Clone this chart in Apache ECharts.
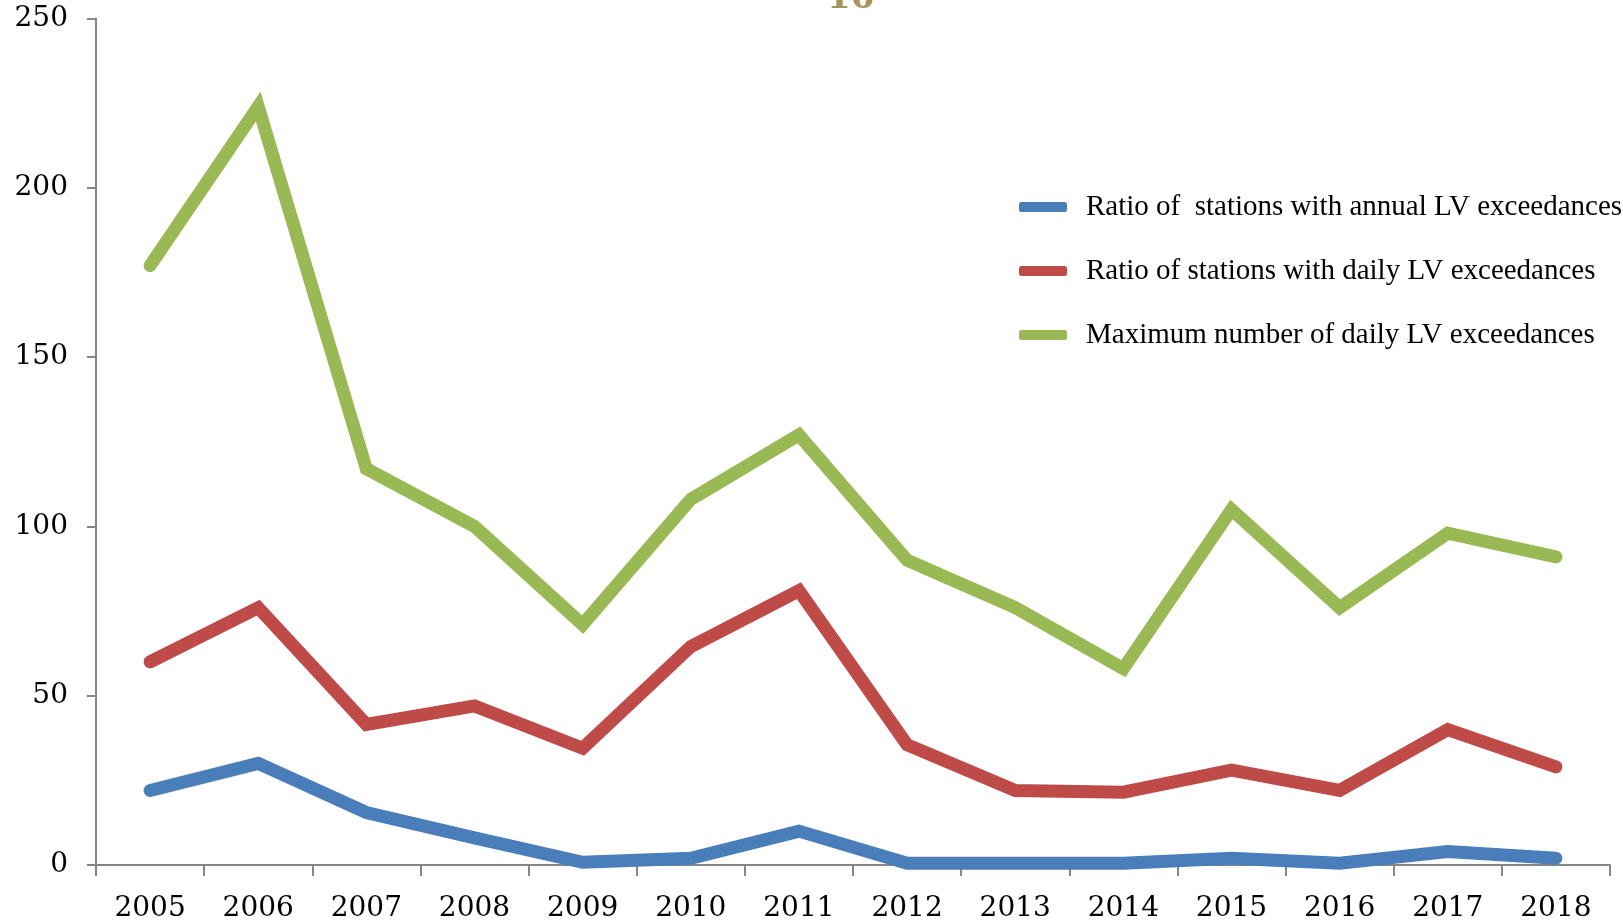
<!DOCTYPE html>
<html>
<head>
<meta charset="utf-8">
<script src="https://cdn.jsdelivr.net/npm/echarts@6/dist/echarts.min.js"></script>
<style>html,body{margin:0;padding:0;background:#fff}#chart{width:1623px;height:923px}</style>
</head>
<body>
<div id="chart"></div>
<script>
const years = ['2005','2006','2007','2008','2009','2010','2011','2012','2013','2014','2015','2016','2017','2018'];
const annualRatio = [22, 30, 15.5, 8, 0.8, 2, 10, 0.5, 0.5, 0.5, 2, 0.5, 4, 2];
const dailyRatio = [60, 76, 41.5, 47, 34.5, 64.5, 81, 35.5, 22, 21.5, 28, 22, 40, 29];
const maxDaily = [177, 224, 117, 100, 71, 108, 127, 90, 76, 58, 105, 76, 98, 91];
const seriesNames = ['Ratio of  stations with annual LV exceedances', 'Ratio of stations with daily LV exceedances', 'Maximum number of daily LV exceedances'];
const yTicks = { min: 0, max: 250, interval: 50 };

const chart = echarts.init(document.getElementById('chart'));
const axisLine = { show: true, lineStyle: { color: '#868686', width: 2 } };
const labelFont = { fontFamily: 'DejaVu Serif', fontSize: 28, color: '#000' };
function mk(name, data, color) {
  return { name, type: 'line', data, showSymbol: false, symbol: 'none', color,
    lineStyle: { width: 13, color, cap: 'round', join: 'miter' }, animation: false };
}
chart.setOption({
  animation: false,
  grid: { left: 96, right: 13, top: 18.5, bottom: 58, containLabel: false },
  graphic: [{ type: 'text', left: 827, top: -18, style: { text: '16', font: 'bold 34px "DejaVu Serif"', fill: '#A8955C' } }],
  legend: { orient: 'vertical', left: 1014, top: 186, itemWidth: 48, itemHeight: 10, itemGap: 32, icon: 'roundRect',
    textStyle: { fontFamily: 'Liberation Serif', fontSize: 29, color: '#000', lineHeight: 32, padding: [0,0,0,14] },
    data: seriesNames },
  xAxis: { type: 'category', data: years, boundaryGap: true, axisLine,
    axisTick: { show: true, length: 11, lineStyle: { color: '#868686', width: 2 } },
    axisLabel: Object.assign({ margin: 30 }, labelFont), splitLine: { show: false } },
  yAxis: { type: 'value', min: yTicks.min, max: yTicks.max, interval: yTicks.interval, axisLine,
    axisTick: { show: true, length: 9, lineStyle: { color: '#868686', width: 2 } },
    axisLabel: Object.assign({ margin: 28 }, labelFont), splitLine: { show: false } },
  series: [ mk(seriesNames[0], annualRatio, '#4A7EBB'), mk(seriesNames[1], dailyRatio, '#BE4B48'), mk(seriesNames[2], maxDaily, '#98B954') ]
});
</script>
</body>
</html>
